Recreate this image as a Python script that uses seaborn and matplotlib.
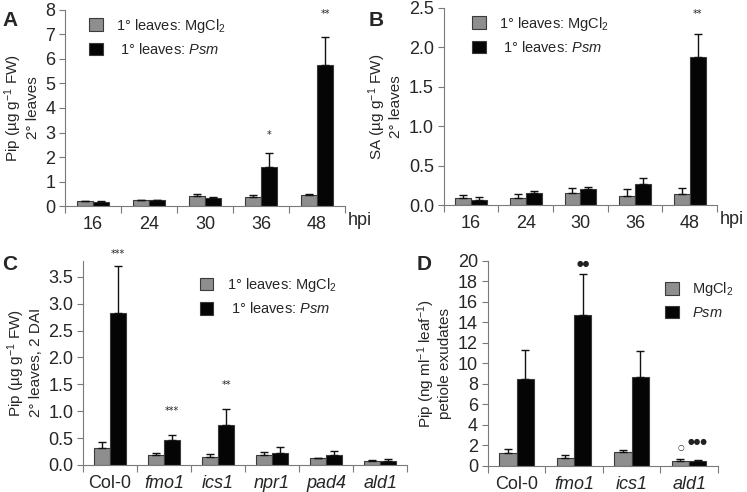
import numpy as np
import pandas as pd
import matplotlib.pyplot as plt
import seaborn as sns
from matplotlib.patches import Patch
from matplotlib.ticker import FixedLocator

# ---- data ----
hpi = ["16", "24", "30", "36", "48"]
pip_mock = [0.20, 0.25, 0.40, 0.38, 0.45]
pip_mock_err = [0.03, 0.02, 0.10, 0.07, 0.04]
pip_psm = [0.18, 0.24, 0.35, 1.60, 5.75]
pip_psm_err = [0.02, 0.03, 0.03, 0.58, 1.15]

sa_mock = [0.09, 0.09, 0.15, 0.12, 0.14]
sa_mock_err = [0.04, 0.05, 0.07, 0.09, 0.08]
sa_psm = [0.07, 0.16, 0.20, 0.27, 1.88]
sa_psm_err = [0.03, 0.02, 0.03, 0.07, 0.29]

genotypes_c = ["Col-0", "fmo1", "ics1", "npr1", "pad4", "ald1"]
c_mock = [0.32, 0.18, 0.15, 0.18, 0.12, 0.08]
c_mock_err = [0.11, 0.05, 0.05, 0.07, 0.01, 0.02]
c_psm = [2.82, 0.46, 0.74, 0.22, 0.18, 0.08]
c_psm_err = [0.88, 0.09, 0.31, 0.12, 0.08, 0.03]

genotypes_d = ["Col-0", "fmo1", "ics1", "ald1"]
d_mock = [1.25, 0.80, 1.35, 0.50]
d_mock_err = [0.40, 0.25, 0.20, 0.15]
d_psm = [8.50, 14.70, 8.65, 0.50]
d_psm_err = [2.80, 4.00, 2.60, 0.10]

# significance marks: (category index, hue index, text, y)
sig_a = [(3, 1, "*", 2.9), (4, 1, "**", 7.85)]
sig_b = [(4, 1, "**", 2.42)]
sig_c = [(0, 1, "***", 3.93), (1, 1, "***", 1.0), (2, 1, "**", 1.48)]
sig_d = [(1, 1, "\u25cf\u25cf", 19.7), (3, 0, "\u25cb", 1.8), (3, 1, "\u25cf\u25cf\u25cf", 2.35)]

GREY = "#8e8e8e"
BLACK = "#050505"
EDGE = "#3a3a3a"
AXC = "#7a7a7a"

sns.set_style("white")
plt.rcParams["font.family"] = ["Liberation Sans", "DejaVu Sans"]
plt.rcParams["mathtext.fontset"] = "custom"
plt.rcParams["mathtext.rm"] = "Liberation Sans"
plt.rcParams["mathtext.it"] = "Liberation Sans:italic"

fig = plt.figure(figsize=(7.47, 4.92), dpi=100)


def panel(rect, cats, mock, mock_err, psm, psm_err, ylim, yticks, yfmt,
          ylabel, labels, legend_xy, sig, italic_ticks=False, width=0.58):
    ax = fig.add_axes(rect)
    df = pd.DataFrame({
        "cat": cats * 2,
        "trt": ["mock"] * len(cats) + ["psm"] * len(cats),
        "val": list(mock) + list(psm),
    })
    sns.barplot(data=df, x="cat", y="val", hue="trt", order=cats,
                hue_order=["mock", "psm"], palette=[GREY, BLACK],
                errorbar=None, width=width, edgecolor=EDGE, linewidth=0.8,
                legend=False, ax=ax)
    # upward-only error bars
    for cont, errs in zip(ax.containers, [mock_err, psm_err]):
        for bar, e in zip(cont, errs):
            xc = bar.get_x() + bar.get_width() / 2
            h = bar.get_height()
            ax.errorbar([xc], [h], yerr=[[0], [e]], fmt="none",
                        ecolor="#111111", elinewidth=1.0, capsize=3,
                        capthick=1.0, zorder=3)
    # significance marks
    for ci, hi, txt, y in sig:
        bar = ax.containers[hi][ci]
        xc = bar.get_x() + bar.get_width() / 2
        fs = 5.5 if "\u25cf" in txt or "\u25cb" in txt else 7
        ax.text(xc, y, txt, ha="center", va="center", fontsize=fs,
                color="#222222", clip_on=False, family=["DejaVu Sans"])

    n = len(cats)
    ax.set_xlim(-0.5, n - 0.5)
    ax.set_ylim(*ylim)
    ax.set_yticks(yticks)
    ax.set_yticklabels([yfmt.format(t) for t in yticks])
    ax.xaxis.set_minor_locator(FixedLocator(np.arange(-0.5, n, 1.0)))
    ax.tick_params(axis="x", which="major", length=0, pad=7, labelsize=13)
    ax.tick_params(axis="x", which="minor", length=5, width=0.8,
                   color=AXC, direction="out", bottom=True)
    ax.tick_params(axis="y", length=4, width=0.8, color=AXC,
                   direction="out", left=True, labelsize=13, pad=3)
    if italic_ticks:
        for lab in ax.get_xticklabels():
            if lab.get_text() != "Col-0":
                lab.set_style("italic")
    ax.set_xlabel("")
    ax.set_ylabel(ylabel, fontsize=11, linespacing=1.1)
    sns.despine(ax=ax)
    for s in ["left", "bottom"]:
        ax.spines[s].set_color(AXC)
        ax.spines[s].set_linewidth(0.8)

    handles = [Patch(facecolor=GREY, edgecolor=EDGE, linewidth=0.8),
               Patch(facecolor=BLACK, edgecolor=EDGE, linewidth=0.8)]
    ax.legend(handles, labels, loc="upper left", bbox_to_anchor=legend_xy,
              frameon=False, fontsize=10.5, handlelength=0.95,
              handleheight=0.95, handletextpad=0.9, labelspacing=0.5,
              borderaxespad=0, borderpad=0)
    return ax


ax_a = panel([0.087, 0.581, 0.375, 0.399], hpi, pip_mock, pip_mock_err,
             pip_psm, pip_psm_err, (0, 8), list(range(0, 9)), "{:d}",
             "Pip (\u00b5g g$^{-1}$ FW)\n2\u00b0 leaves",
             ["1\u00b0 leaves: MgCl$_2$", " 1\u00b0 leaves: $\\it{Psm}$"],
             (0.085, 0.965), sig_a)
ax_b = panel([0.594, 0.583, 0.366, 0.401], hpi, sa_mock, sa_mock_err,
             sa_psm, sa_psm_err, (0, 2.5), [0, 0.5, 1.0, 1.5, 2.0, 2.5],
             "{:.1f}", "SA (\u00b5g g$^{-1}$ FW)\n2\u00b0 leaves",
             ["1\u00b0 leaves: MgCl$_2$", " 1\u00b0 leaves: $\\it{Psm}$"],
             (0.105, 0.965), sig_b)
ax_c = panel([0.111, 0.055, 0.434, 0.415], genotypes_c, c_mock, c_mock_err,
             c_psm, c_psm_err, (0, 3.8), [0, 0.5, 1.0, 1.5, 2.0, 2.5, 3.0, 3.5],
             "{:.1f}", "Pip (\u00b5g g$^{-1}$ FW)\n2\u00b0 leaves, 2 DAI",
             ["1\u00b0 leaves: MgCl$_2$", " 1\u00b0 leaves: $\\it{Psm}$"],
             (0.36, 0.925), sig_c, italic_ticks=True, width=0.6)
ax_d = panel([0.653, 0.053, 0.308, 0.417], genotypes_d, d_mock, d_mock_err,
             d_psm, d_psm_err, (0, 20), list(range(0, 21, 2)), "{:d}",
             "Pip (ng ml$^{-1}$ leaf$^{-1}$)\npetiole exudates",
             ["MgCl$_2$", "$\\it{Psm}$"],
             (0.77, 0.905), sig_d, italic_ticks=True, width=0.6)

# "hpi" unit labels
for ax in (ax_a, ax_b):
    ax.text(1.008, -0.075, "hpi", transform=ax.transAxes, fontsize=13,
            ha="left", va="center")

# panel letters
for letter, (x, y) in zip("ABCD", [(0.003, 0.978), (0.494, 0.978),
                                   (0.003, 0.482), (0.558, 0.482)]):
    fig.text(x, y, letter, fontsize=15, fontweight="bold", ha="left", va="top")

fig.savefig("out.png", dpi=100)
